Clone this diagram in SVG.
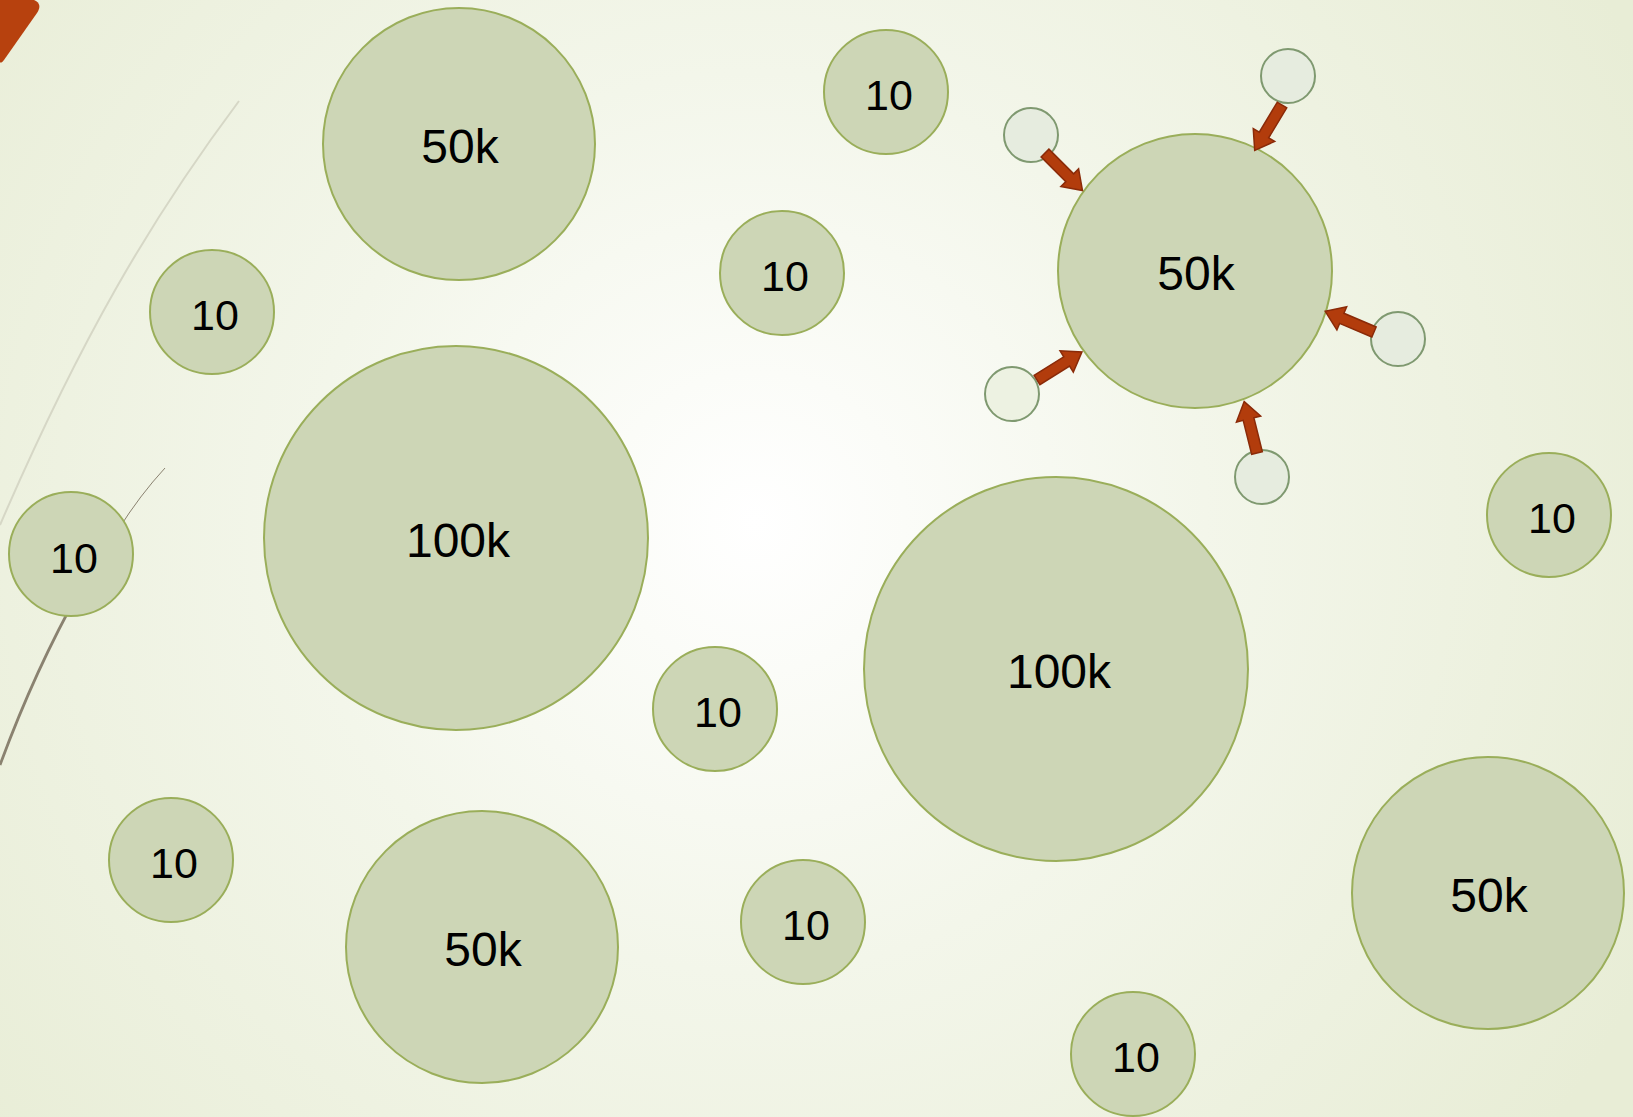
<svg xmlns="http://www.w3.org/2000/svg" width="1633" height="1117" viewBox="0 0 1633 1117">
<defs>
<radialGradient id="bg" gradientUnits="userSpaceOnUse" cx="755" cy="522" r="1000">
<stop offset="0" stop-color="#ffffff"/>
<stop offset="0.45" stop-color="#f3f6ea"/>
<stop offset="1" stop-color="#e8edd6"/>
</radialGradient>
<path id="arr" d="M0,-5.5 L35,-5.5 L35,-12.5 L53,0 L35,12.5 L35,5.5 L0,5.5 Z"/>
<style>
.n circle{fill:#cdd6b6;stroke:#9aae5a;stroke-width:2}
.n text{font-family:"Liberation Sans",Arial,sans-serif;fill:#000;text-anchor:middle}
.big text{font-size:48px}
.sm text{font-size:43px}
.sat circle{fill:#e6ecdf;stroke:#7f9970;stroke-width:2}
.a use{fill:#b23c0c;stroke:#8a2a08;stroke-width:1.5}
</style>
</defs>
<rect width="1633" height="1117" fill="url(#bg)"/>
<path d="M0,0 L34,0 Q43,4 37,13 L4,60 Q1,64 0,62 Z" fill="#b7410e"/>
<path d="M239,101 C150,220 80,340 0,525" fill="none" stroke="#d6d7c6" stroke-width="2"/>
<path d="M165,468 Q140,495 118,530" fill="none" stroke="#8a8270" stroke-width="1"/>
<path d="M80,590 Q35,670 0,765" fill="none" stroke="#8a8270" stroke-width="2.8"/>

<g id="n1" class="n big"><circle cx="459" cy="144" r="136"/><text x="460" y="163">50k</text></g>
<g id="n2" class="n sm"><circle cx="886" cy="92" r="62"/><text x="889" y="110">10</text></g>
<g id="n3" class="n sm"><circle cx="782" cy="273" r="62"/><text x="785" y="291">10</text></g>
<g id="n4" class="n big"><circle cx="1195" cy="271" r="137"/><text x="1196" y="290">50k</text></g>
<g id="n5" class="n sm"><circle cx="212" cy="312" r="62"/><text x="215" y="330">10</text></g>
<g id="n6" class="n big"><circle cx="456" cy="538" r="192"/><text x="458" y="557">100k</text></g>
<g id="n7" class="n sm"><circle cx="71" cy="554" r="62"/><text x="74" y="573">10</text></g>
<g id="n8" class="n sm"><circle cx="715" cy="709" r="62"/><text x="718" y="727">10</text></g>
<g id="n9" class="n big"><circle cx="1056" cy="669" r="192"/><text x="1059" y="688">100k</text></g>
<g id="n10" class="n sm"><circle cx="1549" cy="515" r="62"/><text x="1552" y="533">10</text></g>
<g id="n11" class="n sm"><circle cx="171" cy="860" r="62"/><text x="174" y="878">10</text></g>
<g id="n12" class="n big"><circle cx="482" cy="947" r="136"/><text x="483" y="966">50k</text></g>
<g id="n13" class="n sm"><circle cx="803" cy="922" r="62"/><text x="806" y="940">10</text></g>
<g id="n14" class="n big"><circle cx="1488" cy="893" r="136"/><text x="1489" y="912">50k</text></g>
<g id="n15" class="n sm"><circle cx="1133" cy="1054" r="62"/><text x="1136" y="1072">10</text></g>

<g id="s1" class="sat"><circle cx="1031" cy="135" r="27"/></g>
<g id="s2" class="sat"><circle cx="1288" cy="76" r="27"/></g>
<g id="s3" class="sat"><circle cx="1398" cy="339" r="27"/></g>
<g id="s4" class="sat"><circle cx="1012" cy="394" r="27" style="fill:#edf2e2"/></g>
<g id="s5" class="sat"><circle cx="1262" cy="477" r="27"/></g>

<g id="connectors" class="a">
<use href="#arr" transform="translate(1045,153) rotate(45)"/>
<use href="#arr" transform="translate(1282,105) rotate(121)"/>
<use href="#arr" transform="translate(1374,332) rotate(203)"/>
<use href="#arr" transform="translate(1037,380) rotate(-32)"/>
<use href="#arr" transform="translate(1257,453) rotate(-104)"/>
</g>
</svg>
